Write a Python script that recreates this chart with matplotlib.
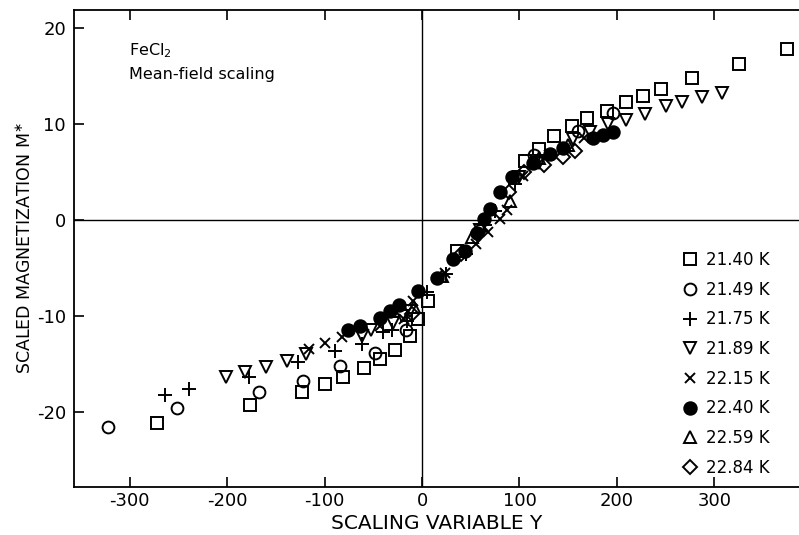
import matplotlib
matplotlib.use("Agg")
import matplotlib.pyplot as plt

plt.rcParams["axes.unicode_minus"] = False

# scaled magnetization data, one set per temperature
sq_x = [-272, -177, -123, -100, -81, -60, -43, -28, -12, -4, 6, 36,
        106, 120, 135, 154, 169, 190, 209, 227, 245, 277, 325, 375]
sq_y = [-21.1, -19.3, -17.9, -17.1, -16.3, -15.4, -14.5, -13.5, -12.1, -10.3, -8.4, -3.2,
        6.2, 7.4, 8.8, 9.8, 10.7, 11.4, 12.3, 13.0, 13.7, 14.8, 16.3, 17.8]

ci_x = [-322, -252, -167, -122, -84, -48, -16, 115, 160, 196]
ci_y = [-21.6, -19.6, -17.9, -16.8, -15.2, -13.8, -11.4, 6.8, 9.3, 11.2]

pl_x = [-264, -239, -178, -127, -89, -62, -40, -31, -15, 5, 25, 45, 65, 75, 95]
pl_y = [-18.2, -17.6, -16.3, -14.8, -13.6, -12.9, -11.7, -11.4, -10.5, -7.5, -5.6, -3.5,
        -0.5, 1.0, 3.8]

td_x = [-201, -182, -160, -139, -119, -62, -52, -30, -21, -12, 60, 100, 120,
        155, 172, 191, 209, 229, 250, 267, 287, 308]
td_y = [-16.3, -15.8, -15.3, -14.7, -14.0, -12.1, -11.4, -10.7, -10.0, -9.5, -1.0, 4.5, 6.0,
        8.5, 9.2, 10.0, 10.5, 11.1, 11.9, 12.3, 12.8, 13.3]

xx_x = [-116, -100, -82, -43, -19, -9, 24, 55, 68, 80, 87, 104, 130, 166]
xx_y = [-13.4, -12.8, -12.2, -11.0, -10.3, -8.4, -5.5, -2.5, -1.2, 0.1, 1.1, 4.6, 6.8, 8.6]

fc_x = [-76, -64, -43, -33, -24, -4, 15, 32, 44, 56, 64, 70, 80, 92, 114, 131, 145,
        175, 186, 196]
fc_y = [-11.4, -11.0, -10.2, -9.5, -8.8, -7.4, -6.0, -4.0, -3.2, -1.3, 0.1, 1.2, 2.9, 4.5,
        6.0, 6.9, 7.5, 8.6, 8.9, 9.2]

tu_x = [-8, 20, 51, 90, 120, 150]
tu_y = [-9.0, -5.8, -1.8, 2.0, 6.5, 7.8]

di_x = [-10, 40, 60, 89, 105, 125, 145, 157]
di_y = [-9.8, -3.5, -1.0, 2.9, 5.0, 5.8, 6.6, 7.2]

labels = ["21.40 K", "21.49 K", "21.75 K", "21.89 K",
          "22.15 K", "22.40 K", "22.59 K", "22.84 K"]

series = [
    (sq_x, sq_y, "s", "none", 8),
    (ci_x, ci_y, "o", "none", 8.5),
    (pl_x, pl_y, "+", "none", 10),
    (td_x, td_y, "v", "none", 8.5),
    (xx_x, xx_y, "x", "none", 7.5),
    (fc_x, fc_y, "o", "black", 9),
    (tu_x, tu_y, "^", "none", 8.5),
    (di_x, di_y, "D", "none", 7),
]

fig = plt.figure(figsize=(7.99, 5.35), dpi=100)
ax = fig.add_axes([0.093, 0.09, 0.907, 0.891])

ax.axhline(0, color="black", linewidth=1.0, zorder=1)
ax.axvline(0, color="black", linewidth=1.0, zorder=1)

for (xs, ys, m, fc, ms), lab in zip(series, labels):
    ax.plot(xs, ys, linestyle="none", marker=m, markersize=ms,
            markerfacecolor=fc, markeredgecolor="black", markeredgewidth=1.4,
            color="black", label=lab, zorder=3)

ax.set_xlim(-357, 387)
ax.set_ylim(-27.8, 21.9)
ax.set_xticks([-300, -200, -100, 0, 100, 200, 300])
ax.set_yticks([-20, -10, 0, 10, 20])
ax.tick_params(direction="in", length=7, width=1.2, labelsize=13, top=True)
ax.tick_params(axis="y", pad=6)
ax.spines["right"].set_visible(False)
for s in ["left", "bottom", "top"]:
    ax.spines[s].set_linewidth(1.3)

ax.set_xlabel("SCALING VARIABLE Y", fontsize=14.5, labelpad=3)
ax.set_ylabel("SCALED MAGNETIZATION M$^{\\ast}$", fontsize=12.5)
ax.yaxis.set_label_coords(-0.054, 0.5)

ax.text(0.075, 0.915, "FeCl$_2$", transform=ax.transAxes, fontsize=11.5, va="center")
ax.text(0.075, 0.865, "Mean-field scaling", transform=ax.transAxes, fontsize=11.5, va="center")

ax.legend(loc="upper left", bbox_to_anchor=(0.828, 0.512), frameon=False,
          fontsize=12, handlelength=0.9, handletextpad=0.5, labelspacing=0.7,
          borderpad=0, numpoints=1)

fig.savefig("out.png", dpi=100)
